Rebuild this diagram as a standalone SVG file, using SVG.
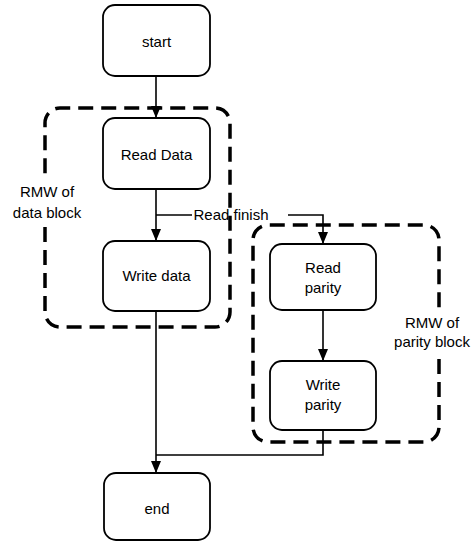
<svg xmlns="http://www.w3.org/2000/svg" width="473" height="542" viewBox="0 0 473 542">
  <defs>
    <marker id="arrow" markerUnits="userSpaceOnUse" markerWidth="12" markerHeight="12" viewBox="0 0 12 12" refX="12" refY="6" orient="auto">
      <path d="M0 1 L12 6 L0 11 Z" fill="#000"/>
    </marker>
    <style>
      .box { fill: #fff; stroke: #000; stroke-width: 1.8; }
      .lbl { font-family: "Liberation Sans", Arial, sans-serif; font-size: 15px; fill: #000; text-anchor: middle; }
      .wire { fill: none; stroke: #000; stroke-width: 1.6; }
      .group { fill: none; stroke: #000; stroke-width: 3.5; stroke-dasharray: 15 8; }
    </style>
  </defs>
  <rect width="473" height="542" fill="#fff"/>

  <!-- dashed read-modify-write groupings -->
  <g id="rmw-data">
    <path class="group" d="M45 227 V312 A15 15 0 0 0 60 327 H215 A15 15 0 0 0 230 312 V123 A15 15 0 0 0 215 108 H60 A15 15 0 0 0 45 123 V177"/>
    <text class="lbl" x="47" y="197">RMW of</text>
    <text class="lbl" x="47" y="218">data block</text>
  </g>
  <g id="rmw-parity">
    <path class="group" d="M439 359 V427 A15 15 0 0 1 424 442 H268 A15 15 0 0 1 253 427 V240 A15 15 0 0 1 268 225 H424 A15 15 0 0 1 439 240 V309"/>
    <text class="lbl" x="432" y="328">RMW of</text>
    <text class="lbl" x="432" y="347">parity block</text>
  </g>

  <!-- connectors -->
  <g id="connectors">
    <path class="wire" d="M156 76 V118" marker-end="url(#arrow)"/>
    <path class="wire" d="M156 188 V241" marker-end="url(#arrow)"/>
    <path class="wire" d="M156 215 H192"/>
    <path class="wire" d="M288 215 H323 V244" marker-end="url(#arrow)"/>
    <text class="lbl" x="231" y="220">Read finish</text>
    <path class="wire" d="M323 310 V361" marker-end="url(#arrow)"/>
    <path class="wire" d="M156 311 V473" marker-end="url(#arrow)"/>
    <path class="wire" d="M323 430 V455 H156"/>
  </g>

  <!-- nodes -->
  <g id="start">
    <rect class="box" x="103" y="5" width="107" height="71" rx="12"/>
    <text class="lbl" x="156.5" y="47">start</text>
  </g>
  <g id="read-data">
    <rect class="box" x="103" y="118" width="107" height="71" rx="12"/>
    <text class="lbl" x="156.5" y="160">Read Data</text>
  </g>
  <g id="write-data">
    <rect class="box" x="103" y="241" width="107" height="70" rx="12"/>
    <text class="lbl" x="156.5" y="281">Write data</text>
  </g>
  <g id="read-parity">
    <rect class="box" x="270" y="244" width="106" height="66" rx="12"/>
    <text class="lbl" x="323" y="273">Read</text>
    <text class="lbl" x="323" y="293">parity</text>
  </g>
  <g id="write-parity">
    <rect class="box" x="270" y="361" width="106" height="69" rx="12"/>
    <text class="lbl" x="323" y="390">Write</text>
    <text class="lbl" x="323" y="410">parity</text>
  </g>
  <g id="end">
    <rect class="box" x="104" y="473" width="106" height="67" rx="12"/>
    <text class="lbl" x="157" y="514">end</text>
  </g>
</svg>
